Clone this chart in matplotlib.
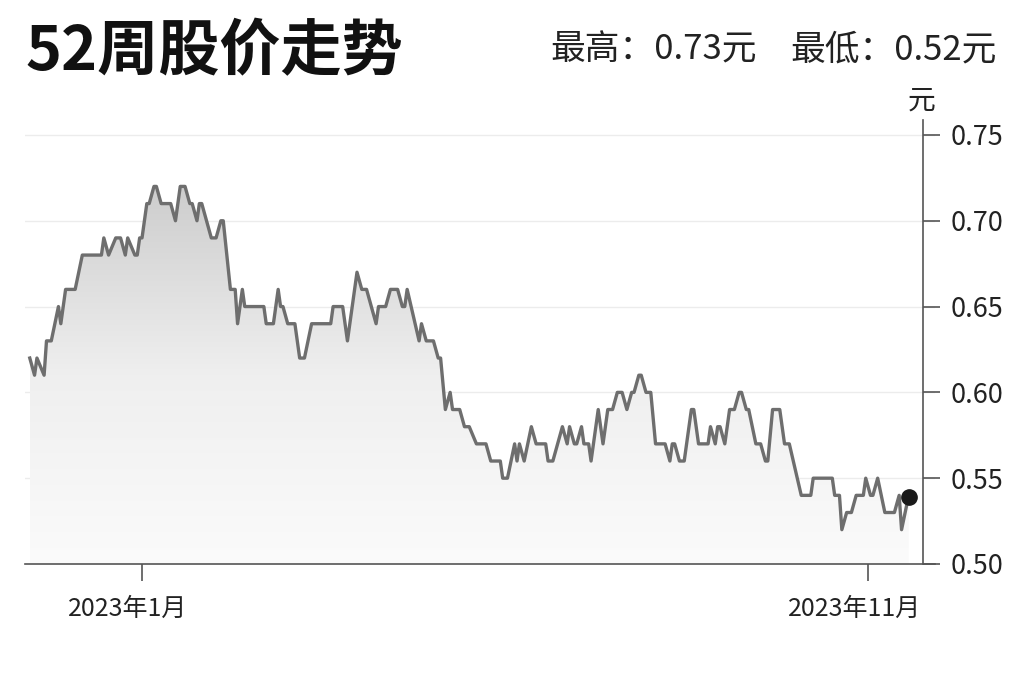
import numpy as np
import pandas as pd
import matplotlib
matplotlib.use("Agg")
import matplotlib.pyplot as plt
import matplotlib.dates as mdates
import matplotlib.transforms as mtransforms
from matplotlib.patches import PathPatch
from matplotlib.colors import LinearSegmentedColormap

plt.rcParams['font.family'] = ['Noto Sans CJK SC', 'DejaVu Sans']

# 价格走势（读图得到的拐点）
dates = [
    "2022-11-15", "2022-11-17", "2022-11-18", "2022-11-21", "2022-11-22", "2022-11-24",
    "2022-11-27", "2022-11-28", "2022-11-30", "2022-12-04", "2022-12-07", "2022-12-15",
    "2022-12-16", "2022-12-18", "2022-12-21", "2022-12-23", "2022-12-25", "2022-12-26",
    "2022-12-29", "2022-12-30", "2022-12-31", "2023-01-01", "2023-01-03", "2023-01-04",
    "2023-01-06", "2023-01-07", "2023-01-09", "2023-01-13", "2023-01-15", "2023-01-17",
    "2023-01-19", "2023-01-21", "2023-01-22", "2023-01-24", "2023-01-25", "2023-01-26",
    "2023-01-30", "2023-02-01", "2023-02-03", "2023-02-04", "2023-02-07", "2023-02-09",
    "2023-02-10", "2023-02-12", "2023-02-13", "2023-02-21", "2023-02-22", "2023-02-25",
    "2023-02-27", "2023-02-28", "2023-03-01", "2023-03-03", "2023-03-06", "2023-03-08",
    "2023-03-10", "2023-03-13", "2023-03-21", "2023-03-22", "2023-03-26", "2023-03-28",
    "2023-03-30", "2023-04-01", "2023-04-03", "2023-04-05", "2023-04-07", "2023-04-09",
    "2023-04-10", "2023-04-13", "2023-04-15", "2023-04-18", "2023-04-20", "2023-04-21",
    "2023-04-22", "2023-04-27", "2023-04-28", "2023-04-30", "2023-05-03", "2023-05-05",
    "2023-05-06", "2023-05-08", "2023-05-10", "2023-05-11", "2023-05-14", "2023-05-16",
    "2023-05-18", "2023-05-21", "2023-05-25", "2023-05-27", "2023-05-31", "2023-06-01",
    "2023-06-03", "2023-06-06", "2023-06-07", "2023-06-08", "2023-06-10", "2023-06-13",
    "2023-06-15", "2023-06-19", "2023-06-20", "2023-06-22", "2023-06-24", "2023-06-26",
    "2023-06-28", "2023-06-29", "2023-07-01", "2023-07-02", "2023-07-04", "2023-07-05",
    "2023-07-07", "2023-07-08", "2023-07-11", "2023-07-13", "2023-07-15", "2023-07-17",
    "2023-07-19", "2023-07-21", "2023-07-23", "2023-07-25", "2023-07-26", "2023-07-28",
    "2023-07-29", "2023-07-31", "2023-08-02", "2023-08-04", "2023-08-08", "2023-08-10",
    "2023-08-11", "2023-08-12", "2023-08-14", "2023-08-16", "2023-08-19", "2023-08-20",
    "2023-08-22", "2023-08-26", "2023-08-27", "2023-08-29", "2023-08-30", "2023-08-31",
    "2023-09-02", "2023-09-04", "2023-09-06", "2023-09-08", "2023-09-09", "2023-09-11",
    "2023-09-12", "2023-09-15", "2023-09-17", "2023-09-19", "2023-09-20", "2023-09-22",
    "2023-09-25", "2023-09-27", "2023-09-29", "2023-10-04", "2023-10-08", "2023-10-09",
    "2023-10-17", "2023-10-18", "2023-10-20", "2023-10-21", "2023-10-23", "2023-10-25",
    "2023-10-27", "2023-10-30", "2023-10-31", "2023-11-02", "2023-11-03", "2023-11-05",
    "2023-11-08", "2023-11-12", "2023-11-14", "2023-11-15", "2023-11-18",
]
prices = [
    0.62, 0.61, 0.62, 0.61, 0.63, 0.63,
    0.65, 0.64, 0.66, 0.66, 0.68, 0.68,
    0.69, 0.68, 0.69, 0.69, 0.68, 0.69,
    0.68, 0.68, 0.69, 0.69, 0.71, 0.71,
    0.72, 0.72, 0.71, 0.71, 0.70, 0.72,
    0.72, 0.71, 0.71, 0.70, 0.71, 0.71,
    0.69, 0.69, 0.70, 0.70, 0.66, 0.66,
    0.64, 0.66, 0.65, 0.65, 0.64, 0.64,
    0.66, 0.65, 0.65, 0.64, 0.64, 0.62,
    0.62, 0.64, 0.64, 0.65, 0.65, 0.63,
    0.65, 0.67, 0.66, 0.66, 0.65, 0.64,
    0.65, 0.65, 0.66, 0.66, 0.65, 0.65,
    0.66, 0.63, 0.64, 0.63, 0.63, 0.62,
    0.62, 0.59, 0.60, 0.59, 0.59, 0.58,
    0.58, 0.57, 0.57, 0.56, 0.56, 0.55,
    0.55, 0.57, 0.56, 0.57, 0.56, 0.58,
    0.57, 0.57, 0.56, 0.56, 0.57, 0.58,
    0.57, 0.58, 0.57, 0.57, 0.58, 0.57,
    0.57, 0.56, 0.59, 0.57, 0.59, 0.59,
    0.60, 0.60, 0.59, 0.60, 0.60, 0.61,
    0.61, 0.60, 0.60, 0.57, 0.57, 0.56,
    0.57, 0.57, 0.56, 0.56, 0.59, 0.59,
    0.57, 0.57, 0.58, 0.57, 0.58, 0.58,
    0.57, 0.59, 0.59, 0.60, 0.60, 0.59,
    0.59, 0.57, 0.57, 0.56, 0.56, 0.59,
    0.59, 0.57, 0.57, 0.54, 0.54, 0.55,
    0.55, 0.54, 0.54, 0.52, 0.53, 0.53,
    0.54, 0.54, 0.55, 0.54, 0.54, 0.55,
    0.53, 0.53, 0.54, 0.52, 0.54,
]
last_price = 0.539
high_52w = 0.73
low_52w = 0.52

yticks = [0.50, 0.55, 0.60, 0.65, 0.70, 0.75]
xtick_dates = ["2023-01-01", "2023-11-01"]
xtick_labels = ["2023年1月", "2023年11月"]

x = mdates.date2num(pd.to_datetime(dates))
y = np.array(prices)

fig = plt.figure(figsize=(10.24, 6.82), dpi=100)
fig.patch.set_facecolor("white")
ax = fig.add_axes([25 / 1024, 118 / 682, 910 / 1024, 444 / 682])

ymin, ymax = 0.50, 0.7587
ax.set_ylim(ymin, ymax)
ax.set_xlim(mdates.date2num(pd.Timestamp("2022-11-13")),
            mdates.date2num(pd.Timestamp("2023-11-29")))

# 渐变填充
cmap = LinearSegmentedColormap.from_list("g", ["#fbfbfb", "#efefef", "#cdcdcd"])
grad = np.linspace(0, 1, 256).reshape(-1, 1)
img = ax.imshow(grad, cmap=cmap, aspect="auto", origin="lower",
                extent=[x[0], x[-1], ymin, y.max()], zorder=1)
verts = np.column_stack([np.r_[x[0], x, x[-1]], np.r_[ymin, y, ymin]])
clip = PathPatch(matplotlib.path.Path(verts), facecolor="none", edgecolor="none")
ax.add_patch(clip)
img.set_clip_path(clip)

ax.plot(x, y, color="#6e6e6e", lw=2.4, solid_joinstyle="round", zorder=3)
ax.plot(x[-1], last_price, "o", color="#1a1a1a", ms=11, zorder=4)

# 网格
for t in yticks[1:]:
    ax.axhline(t, color="#ececec", lw=1, zorder=0.5)

for s in ["top", "left"]:
    ax.spines[s].set_visible(False)
ax.spines["bottom"].set_color("#555555")
ax.spines["bottom"].set_linewidth(1.2)
ax.spines["right"].set_position(("axes", 898 / 910))
ax.spines["right"].set_color("#555555")
ax.spines["right"].set_linewidth(1.2)

ax.yaxis.tick_right()
ax.set_yticks(yticks)
ax.set_yticklabels([f"{t:.2f}" for t in yticks])
ax.tick_params(axis="y", length=12, width=1.2, color="#555555", pad=8,
               labelsize=19.5, labelcolor="#222222")
ax.set_xticks(mdates.date2num(pd.to_datetime(xtick_dates)))
ax.set_xticklabels(xtick_labels)
ax.tick_params(axis="x", length=12, width=1.2, color="#555555", pad=11,
               labelsize=18, labelcolor="#222222")
shift = mtransforms.ScaledTranslation(-0.14, 0, fig.dpi_scale_trans)
for lbl in ax.get_xticklabels():
    lbl.set_transform(lbl.get_transform() + shift)

fig.text(25 / 1024, 1 - 52 / 682, "52周股价走势", fontsize=44, fontweight="bold",
         color="#111111", va="center", ha="left")
fig.text(757 / 1024, 1 - 50 / 682, f"最高：{high_52w:.2f}元", fontsize=25,
         color="#222222", va="center", ha="right")
fig.text(997 / 1024, 1 - 50 / 682, f"最低：{low_52w:.2f}元", fontsize=25,
         color="#222222", va="center", ha="right")
fig.text(922 / 1024, 1 - 101 / 682, "元", fontsize=20, color="#222222",
         va="center", ha="center")

fig.savefig("out.png", dpi=100, facecolor="white")
